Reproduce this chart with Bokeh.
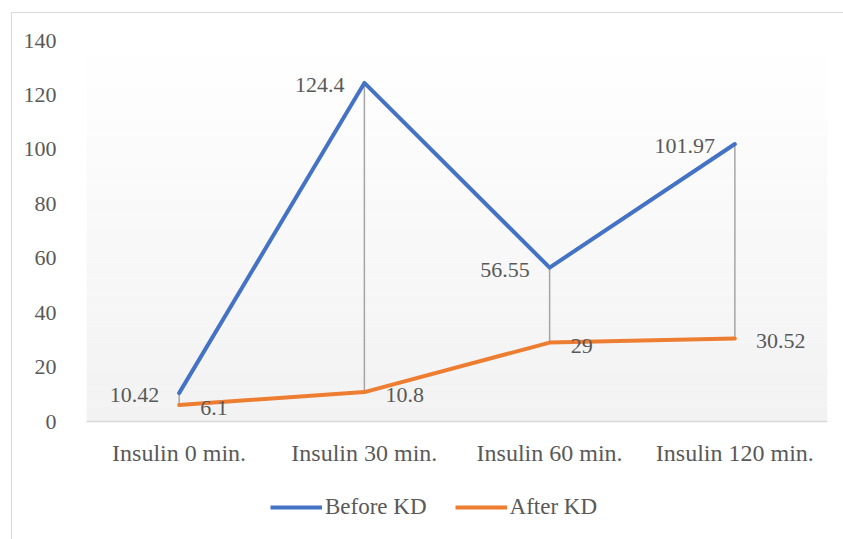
from bokeh.plotting import figure
from bokeh.layouts import column
from bokeh.models import FactorRange, Range1d, Legend, LegendItem, BoxAnnotation, FixedTicker
from bokeh.core.properties import value
from bokeh.embed import file_html
from bokeh.resources import INLINE

categories = ["Insulin 0 min.", "Insulin 30 min.", "Insulin 60 min.", "Insulin 120 min."]
before_kd = [10.42, 124.4, 56.55, 101.97]
after_kd = [6.1, 10.8, 29, 30.52]
before_labels = ["10.42", "124.4", "56.55", "101.97"]
after_labels = ["6.1", "10.8", "29", "30.52"]
y_ticks = [0, 20, 40, 60, 80, 100, 120, 140]
series_names = ["Before KD", "After KD"]

FONT = "Liberation Serif"
TXT = "#595959"
BLUE = "#4472C4"
ORANGE = "#ED7D31"

p = figure(
    x_range=FactorRange(*categories, range_padding=0),
    y_range=Range1d(0, 140),
    width=831, height=467,
    output_backend="svg", toolbar_location=None,
    min_border_left=74, min_border_right=16, min_border_top=27, min_border_bottom=59,
)
p.outline_line_color = None
p.xgrid.visible = False
p.ygrid.visible = False
p.background_fill_color = "white"

# gradient plot-area background
n = 24
ymax = 140
for i in range(n):
    t = (i + 0.5) / n
    c = int(round(242 + (255 - 242) * t))
    p.add_layout(BoxAnnotation(bottom=ymax * i / n, top=ymax * (i + 1) / n,
                               fill_color=(c, c, c), fill_alpha=1.0,
                               line_color=None, level="underlay"))

# drop lines
p.segment(x0=categories, y0=before_kd, x1=categories, y1=after_kd,
          line_color="#A5A5A5", line_width=1.5)

r1 = p.line(categories, before_kd, line_width=4, line_color=BLUE,
            line_join="round", line_cap="round")
r2 = p.line(categories, after_kd, line_width=4, line_color=ORANGE,
            line_join="round", line_cap="round")

p.text(x=categories, y=before_kd, text=before_labels, text_align="right",
       text_baseline="middle", x_offset=-20, y_offset=2,
       text_font=value(FONT), text_font_size="22px", text_color=TXT)
p.text(x=categories, y=after_kd, text=after_labels, text_align="left",
       text_baseline="middle", x_offset=21, y_offset=3,
       text_font=value(FONT), text_font_size="22px", text_color=TXT)

# axes
p.xaxis.axis_line_color = "#D9D9D9"
p.xaxis.axis_line_width = 1.5
p.xaxis.major_tick_line_color = None
p.xaxis.minor_tick_line_color = None
p.xaxis.major_label_text_font = FONT
p.xaxis.major_label_text_font_size = "24px"
p.xaxis.major_label_text_color = TXT
p.xaxis.major_label_standoff = 12

p.yaxis.ticker = FixedTicker(ticks=y_ticks)
p.yaxis.axis_line_color = None
p.yaxis.major_tick_line_color = None
p.yaxis.minor_tick_line_color = None
p.yaxis.major_label_text_font = FONT
p.yaxis.major_label_text_font_size = "22px"
p.yaxis.major_label_text_color = TXT
p.yaxis.major_label_standoff = 24

# legend in its own strip under the chart (series drawn off-range there,
# only their legend glyphs show)
lg = figure(width=831, height=59, output_backend="svg", toolbar_location=None,
            min_border=0, x_range=FactorRange(*categories, range_padding=0),
            y_range=Range1d(-2, -1))
lg.axis.visible = False
lg.grid.visible = False
lg.outline_line_color = None
l1 = lg.line(categories, before_kd, line_width=4, line_color=BLUE)
l2 = lg.line(categories, after_kd, line_width=4, line_color=ORANGE)
legend = Legend(items=[LegendItem(label=series_names[0], renderers=[l1]),
                       LegendItem(label=series_names[1], renderers=[l2])],
                orientation="horizontal", location=(184, 19),
                glyph_width=52, glyph_height=20, label_standoff=3, spacing=28,
                label_text_font=FONT, label_text_font_size="23px",
                label_text_color=TXT, border_line_color=None,
                background_fill_alpha=0, margin=0, padding=0)
lg.add_layout(legend, "center")

layout = column(p, lg, spacing=0)
layout.styles = {"margin-left": "11px", "margin-top": "12px",
                 "border-left": "1px solid #d9d9d9", "border-top": "1px solid #d9d9d9"}

open("out.html", "w").write(file_html(layout, INLINE))
